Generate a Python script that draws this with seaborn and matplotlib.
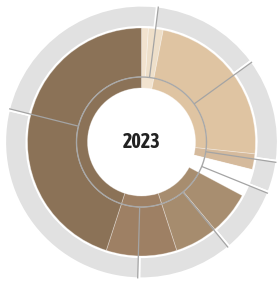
import numpy as np
import matplotlib
matplotlib.use("Agg")
import matplotlib.pyplot as plt
from matplotlib import font_manager
import seaborn as sns

# ---- data (values in degrees of the circle) ----
center_label = "2023"

# inner (parent) ring
parent_names = ["Cream", "Tan", "Tan dark", "Gap", "Brown light", "Brown mid", "Brown dark"]
parent_values = [11, 85, 8, 14, 44, 36, 162]
parent_colors = ["#F2E3CF", "#DFC4A2", "#D5BA9C", "#FFFFFF", "#A78D6F", "#9E8064", "#8B7257"]

# outer (child) coloured ring
child_names = ["Cream a", "Cream b", "Tan", "Tan dark", "Gap", "Brown light a", "Brown light b",
               "Brown mid", "Brown dark"]
child_values = [3.5, 7.5, 85, 8, 14, 22, 22, 36, 162]
child_colors = ["#F2E3CF", "#EEDFC9", "#DFC4A2", "#D5BA9C", "#FFFFFF", "#A88E70", "#A68C6E",
                "#9E8064", "#8B7257"]

# grey comparison ring (segments start 6.5 degrees clockwise from top)
grey_start = 6.5
grey_values = [47, 44.5, 13.5, 28.5, 41, 102.5, 83]

sns.set_style("white")

# look for a condensed / narrow bold font for the centre label
cands = []
for f in font_manager.fontManager.ttflist:
    key = (f.name + " " + str(f.fname)).lower()
    narrow = ("narrow" in key) or ("condensed" in key) or (str(f.stretch) in ("condensed", "semi-condensed", "extra-condensed"))
    if narrow:
        w = f.weight if isinstance(f.weight, int) else (700 if "bold" in str(f.weight) else 400)
        cands.append((abs(w - 700), f.name, f.fname))
cands.sort()
if cands:
    label_font = dict(fontproperties=font_manager.FontProperties(fname=cands[0][2], size=14.5))
else:
    label_font = dict(family=["Roboto", "DejaVu Sans"], fontweight="bold", fontsize=13.5)

W, H = 279, 281
fig = plt.figure(figsize=(W / 100, H / 100), dpi=100)
ax = fig.add_axes([0, 0, 1, 1])

R_HOLE, R_MID, R_COL, R_GIN, R_OUT = 54, 65, 114, 115, 136.5
START = 90  # 12 o'clock

# grey outer ring
ax.pie(grey_values, radius=R_OUT, startangle=START - grey_start, counterclock=False,
       colors=["#E1E1E1"] * len(grey_values),
       wedgeprops=dict(width=R_OUT - R_GIN, edgecolor="white", linewidth=1.6))

# coloured child ring
ax.pie(child_values, radius=R_COL, startangle=START, counterclock=False,
       colors=child_colors,
       wedgeprops=dict(width=R_COL - R_MID, edgecolor=(1, 1, 1, 0.35), linewidth=0.6))

# coloured parent ring
ax.pie(parent_values, radius=R_MID, startangle=START, counterclock=False,
       colors=parent_colors,
       wedgeprops=dict(width=R_MID - R_HOLE, edgecolor=(1, 1, 1, 0.35), linewidth=0.6))

# thin circle at parent/child border
th = np.linspace(0, 2 * np.pi, 400)
ax.plot(R_MID * np.cos(th), R_MID * np.sin(th), color="#A8A8A8", lw=1.0)

# grey separator lines of the comparison ring
bounds = grey_start + np.cumsum([0] + grey_values[:-1])
for b in bounds:
    a = np.deg2rad(START - b - 0.6)
    ax.plot([R_MID * np.cos(a), R_OUT * np.cos(a)], [R_MID * np.sin(a), R_OUT * np.sin(a)],
            color="#A4A4A4", lw=0.9, solid_capstyle="butt")

ax.text(0, -0.5, center_label, ha="center", va="center", color="#222222", **label_font)

cx, cy = 141.5, 139.0
ax.set_xlim(-cx, W - cx)
ax.set_ylim(-cy, H - cy)
ax.set_aspect("auto")
ax.axis("off")

fig.savefig("out.png", dpi=100)
